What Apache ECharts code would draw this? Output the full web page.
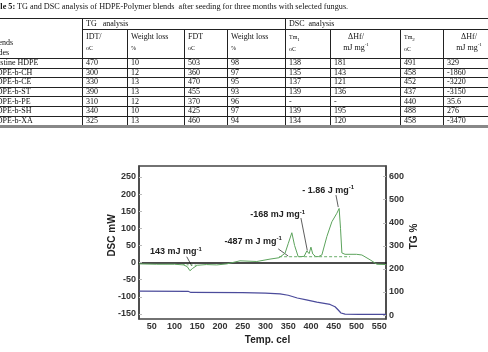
<!DOCTYPE html>
<html>
<head>
<meta charset="utf-8">
<script src="https://cdn.jsdelivr.net/npm/echarts@6/dist/echarts.min.js"></script>
<style>
html, body { margin: 0; padding: 0; background: #fff; }
#chart { position: absolute; left: 0; top: 0; width: 488px; height: 352px; }
#tbl { position: absolute; left: 0; top: 0; width: 488px; height: 132px; overflow: hidden;
       font-family: "Liberation Serif", "Times New Roman", serif; font-size: 8px; color: #111; }
#cap { position: absolute; left: -13px; top: 2px; white-space: nowrap; line-height: 9px; font-size: 8.2px; }
#tbl table { position: absolute; left: -20px; top: 18px; width: 533px; border-collapse: collapse; table-layout: fixed; }
#tbl td { border: 1px solid #222; padding: 0 0 0 3px; line-height: 8px; white-space: nowrap; overflow: hidden; vertical-align: middle; }
#tbl tr.d td { height: 8.6px; }
#tbl tr.last td { border-bottom: 3px solid #888; }
#tbl td.blend { padding-left: 10px; }
#tbl td.hd { vertical-align: top; padding-top: 1px; line-height: 11px; }
#tbl td.hdc { vertical-align: top; padding-top: 1px; line-height: 11px; text-align: center; padding-right: 22px; }
#tbl .sm { font-size: 6px; }
#tbl sup, #tbl sub { font-size: 5px; line-height: 0; }
</style>
</head>
<body>
<div id="chart"></div>
<div id="tbl"></div>
<script>
// table 5 values
var blendCodes = ['Pristine HDPE', 'HDPE-b-CH', 'HDPE-b-CE', 'HDPE-b-ST', 'HDPE-b-PE', 'HDPE-b-SH', 'HDPE-b-XA'];
var idtValues = ['470', '300', '330', '390', '310', '340', '325'];
var idtLoss = ['10', '12', '13', '13', '12', '10', '13'];
var fdtValues = ['503', '360', '470', '455', '370', '425', '460'];
var fdtLoss = ['98', '97', '95', '93', '96', '97', '94'];
var tm1Values = ['138', '135', '137', '139', '-', '139', '134'];
var dhf1Values = ['181', '143', '121', '136', '-', '195', '120'];
var tm2Values = ['491', '458', '452', '437', '440', '488', '458'];
var dhf2Values = ['329', '-1860', '-3220', '-3150', '35.6', '276', '-3470'];

// DSC curve (green), left axis
var dscTemp = [22, 60, 100, 120, 128, 134, 140, 150, 170, 193, 215, 244, 281, 310, 330, 343, 350, 358, 364, 372, 385, 391, 396, 400, 404, 410, 416, 424, 435, 446, 457, 462, 465, 468, 475, 500, 512, 530, 545, 565];
var dscMw = [-4, -5, -5, -7, -12, -24, -17, -8, -6, -7, -4, 5, 3, 10, 14, 27, 55, 87, 50, 17, 18, 34, 26, 45, 25, 18, 17, 22, 76, 119, 144, 158, 100, 28, 24, 24, 22, 8, -5, -6];
// dashed baselines
var dipBaseTemp = [118, 152];
var dipBaseMw = [-6, -8];
var peakBaseTemp = [330, 486];
var peakBaseMw = [17, 17];

// TG curve (blue), right axis
var tgTemp = [22, 130, 136, 250, 300, 332, 350, 370, 390, 413, 442, 453, 460, 466, 475, 505, 565];
var tgPercent = [104, 103, 98, 97, 95, 92, 86, 74, 66, 56, 46, 36, 22, 9, 4, 3, 3];

var tempTicks = [50, 100, 150, 200, 250, 300, 350, 400, 450, 500, 550];
var dscTicks = [-150, -100, -50, 0, 50, 100, 150, 200, 250];
var tgTicks = [0, 100, 200, 300, 400, 500, 600];

// enthalpy labels: text, label centre, leader start, leader end (data units)
var annoText = ['143 mJ mg', '-487 m J mg', '-168 mJ mg', '- 1.86 J mg'];
var annoAt = [[103, 31], [273, 61], [327, 139], [438, 210]];
var annoFrom = [[127, 17], [328, 40], [378, 130], [455, 197]];
var annoTo = [[138, -10], [350, 19], [392, 35], [460, 162]];

// build the table
function cell(t, cls, extra) {
    return '<td' + (cls ? ' class="' + cls + '"' : '') + (extra || '') + '>' + t + '</td>';
}
var mjmg = 'mJ mg<sup>-1</sup>';
var html = '<div id="cap"><b>Table 5:</b> TG and DSC analysis of HDPE-Polymer blends &nbsp;after seeding for three months with selected fungus.</div>';
html += '<table><colgroup>';
[102, 45, 57, 43, 58, 45, 70, 43, 70].forEach(function (w) { html += '<col style="width:' + w + 'px">'; });
html += '</colgroup>';
html += '<tr style="height:10px">' + cell('<div style="padding-top:19px;line-height:10px">Blends<br>codes</div>', 'blend', ' rowspan="2" style="vertical-align:top"') +
    cell('TG &nbsp;&nbsp;analysis', '', ' colspan="4"') + cell('DSC &nbsp;analysis', '', ' colspan="4"') + '</tr>';
html += '<tr style="height:28px">' + cell('IDT/<br><span class="sm">oC</span>', 'hd') + cell('Weight loss<br><span class="sm">%</span>', 'hd') +
    cell('FDT<br><span class="sm">oC</span>', 'hd') + cell('Weight loss<br><span class="sm">%</span>', 'hd') +
    cell('<span class="sm">Tm<sub>1</sub></span><br><span class="sm">oC</span>', 'hd') + cell('&Delta;Hf/<br>' + mjmg, 'hdc') +
    cell('<span class="sm">Tm<sub>2</sub></span><br><span class="sm">oC</span>', 'hd') + cell('&Delta;Hf/<br>' + mjmg, 'hdc') + '</tr>';
for (var i = 0; i < blendCodes.length; i++) {
    html += '<tr class="d' + (i === blendCodes.length - 1 ? ' last' : '') + '">' + cell(blendCodes[i], 'blend') +
        cell(idtValues[i]) + cell(idtLoss[i]) + cell(fdtValues[i]) + cell(fdtLoss[i]) +
        cell(tm1Values[i]) + cell(dhf1Values[i]) + cell(tm2Values[i]) + cell(dhf2Values[i]) + '</tr>';
}
html += '</table>';
document.getElementById('tbl').innerHTML = html;

function zip(xs, ys) {
    var d = [];
    for (var k = 0; k < xs.length; k++) {
        d.push([xs[k], ys[k]]);
    }
    return d;
}

var myChart = echarts.init(document.getElementById('chart'));
var tickFont = { fontFamily: 'Liberation Sans', fontSize: 9, fontWeight: 'bold', color: '#333' };
var titleFont = { fontFamily: 'Liberation Sans', fontSize: 10, fontWeight: 'bold', color: '#222' };

var option = {
    animation: false,
    grid: { left: 139, top: 166, right: 102, bottom: 33, show: true, borderColor: '#444', borderWidth: 1.5 },
    xAxis: {
        type: 'value', min: 22, max: 565,
        name: 'Temp. cel', nameLocation: 'middle', nameGap: 16, nameMoveOverlap: false,
        nameTextStyle: Object.assign({ padding: [0, 0, 0, 10] }, titleFont),
        axisLine: { show: true, lineStyle: { color: '#111', width: 1.5 } },
        axisTick: { show: false },
        axisLabel: Object.assign({ customValues: tempTicks, margin: 3 }, tickFont),
        splitLine: { show: false }
    },
    yAxis: [{
        type: 'value', min: -165, max: 282, position: 'left',
        name: 'DSC mW', nameLocation: 'middle', nameGap: 22, nameRotate: 90, nameMoveOverlap: false,
        nameTextStyle: Object.assign({ padding: [0, 0, 0, 14] }, titleFont),
        axisLine: { show: true, lineStyle: { color: '#444', width: 1.5 } },
        axisTick: { show: true, inside: true, length: 3, customValues: dscTicks, lineStyle: { color: '#bbb' } },
        axisLabel: Object.assign({ customValues: dscTicks, margin: 3 }, tickFont),
        splitLine: { show: false }
    }, {
        type: 'value', min: -17, max: 646, position: 'right',
        name: 'TG %', nameLocation: 'middle', nameGap: 23, nameRotate: 90, nameMoveOverlap: false,
        nameTextStyle: Object.assign({ padding: [0, 0, 0, 12] }, titleFont),
        axisLine: { show: true, lineStyle: { color: '#444', width: 1.5 } },
        axisTick: { show: true, inside: true, length: 3, customValues: tgTicks, lineStyle: { color: '#bbb' } },
        axisLabel: Object.assign({ customValues: tgTicks, margin: 3 }, tickFont),
        splitLine: { show: false }
    }],
    series: [{
        name: 'DSC', type: 'line', yAxisIndex: 0, showSymbol: false,
        lineStyle: { color: '#5ca35c', width: 1 },
        data: zip(dscTemp, dscMw)
    }, {
        name: 'dip baseline', type: 'line', yAxisIndex: 0, showSymbol: false,
        lineStyle: { color: '#6aae6a', width: 1, type: [2, 2] },
        data: zip(dipBaseTemp, dipBaseMw)
    }, {
        name: 'peak baseline', type: 'line', yAxisIndex: 0, showSymbol: false,
        lineStyle: { color: '#6aae6a', width: 1, type: [3, 2] },
        data: zip(peakBaseTemp, peakBaseMw)
    }, {
        name: 'TG', type: 'line', yAxisIndex: 1, showSymbol: false,
        lineStyle: { color: '#4b4b9b', width: 1.2 },
        data: zip(tgTemp, tgPercent)
    }]
};
myChart.setOption(option);

// enthalpy labels with leader lines, placed through the chart's own scales
var graphics = [];
var toPx = function (p) { return myChart.convertToPixel({ xAxisIndex: 0, yAxisIndex: 0 }, p); };
for (var j = 0; j < annoText.length; j++) {
    var c = toPx(annoAt[j]);
    var a = toPx(annoFrom[j]);
    var b = toPx(annoTo[j]);
    graphics.push({
        type: 'line', silent: true,
        shape: { x1: a[0], y1: a[1], x2: b[0], y2: b[1] },
        style: { stroke: '#333', lineWidth: 0.8 }
    });
    graphics.push({
        type: 'text', silent: true, x: c[0], y: c[1],
        style: {
            text: '{m|' + annoText[j] + '}{s|-1}',
            align: 'center', verticalAlign: 'middle',
            rich: {
                m: { fontFamily: 'Liberation Sans', fontSize: 9, fontWeight: 'bold', fill: '#222', lineHeight: 12 },
                s: { fontFamily: 'Liberation Sans', fontSize: 6, fontWeight: 'bold', fill: '#222', verticalAlign: 'top', lineHeight: 12 }
            }
        }
    });
}
myChart.setOption({ graphic: graphics });
</script>
</body>
</html>
